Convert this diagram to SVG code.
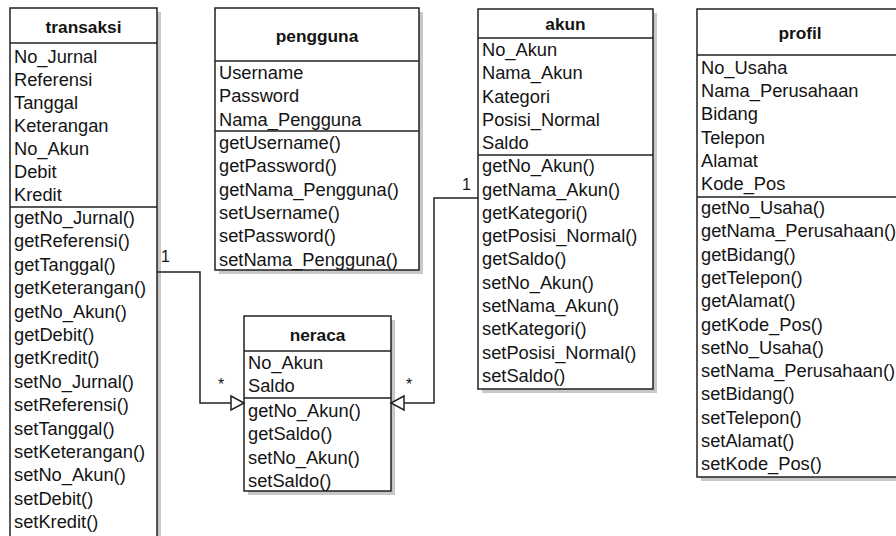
<svg xmlns="http://www.w3.org/2000/svg" width="896" height="536" viewBox="0 0 896 536">
<style>
.bg{fill:#ffffff}
.sh{fill:#c8c8c8}
.box{fill:#ffffff;stroke:#202020;stroke-width:1.5}
.ln{stroke:#202020;stroke-width:1.5}
.t{font-family:"Liberation Sans",Arial,sans-serif;font-size:18.3px;fill:#141414}
.h{font-family:"Liberation Sans",Arial,sans-serif;font-size:17.3px;font-weight:bold;fill:#141414;text-anchor:middle}
.lb{font-family:"Liberation Sans",Arial,sans-serif;font-size:16px;fill:#141414}
.c{fill:none;stroke:#202020;stroke-width:1.5}
.ar{fill:#ffffff;stroke:#202020;stroke-width:1.5}
</style>
<rect class="bg" x="0" y="0" width="896" height="536"/>

<g id="transaksi">
<rect class="sh" x="14" y="12" width="147" height="530"/>
<rect class="box" x="10" y="8" width="147" height="530"/>
<line class="ln" x1="10" y1="43" x2="157" y2="43"/>
<line class="ln" x1="10" y1="207" x2="157" y2="207"/>
<text class="h" x="83.5" y="33">transaksi</text>
<text class="t" x="14" y="63">No_Jurnal</text>
<text class="t" x="14" y="86">Referensi</text>
<text class="t" x="14" y="109">Tanggal</text>
<text class="t" x="14" y="132">Keterangan</text>
<text class="t" x="14" y="155">No_Akun</text>
<text class="t" x="14" y="178">Debit</text>
<text class="t" x="14" y="201">Kredit</text>
<text class="t" x="14" y="224">getNo_Jurnal()</text>
<text class="t" x="14" y="247.4">getReferensi()</text>
<text class="t" x="14" y="270.8">getTanggal()</text>
<text class="t" x="14" y="294.2">getKeterangan()</text>
<text class="t" x="14" y="317.6">getNo_Akun()</text>
<text class="t" x="14" y="341">getDebit()</text>
<text class="t" x="14" y="364.4">getKredit()</text>
<text class="t" x="14" y="387.8">setNo_Jurnal()</text>
<text class="t" x="14" y="411.2">setReferensi()</text>
<text class="t" x="14" y="434.6">setTanggal()</text>
<text class="t" x="14" y="458">setKeterangan()</text>
<text class="t" x="14" y="481.4">setNo_Akun()</text>
<text class="t" x="14" y="504.8">setDebit()</text>
<text class="t" x="14" y="528.2">setKredit()</text>
</g>

<g id="pengguna">
<rect class="sh" x="219" y="12" width="204" height="262"/>
<rect class="box" x="215" y="8" width="204" height="262"/>
<line class="ln" x1="215" y1="61" x2="419" y2="61"/>
<line class="ln" x1="215" y1="131" x2="419" y2="131"/>
<text class="h" x="317" y="42">pengguna</text>
<text class="t" x="219" y="79">Username</text>
<text class="t" x="219" y="102.3">Password</text>
<text class="t" x="219" y="125.6">Nama_Pengguna</text>
<text class="t" x="219" y="149">getUsername()</text>
<text class="t" x="219" y="172.3">getPassword()</text>
<text class="t" x="219" y="195.6">getNama_Pengguna()</text>
<text class="t" x="219" y="218.9">setUsername()</text>
<text class="t" x="219" y="242.2">setPassword()</text>
<text class="t" x="219" y="265.5">setNama_Pengguna()</text>
</g>

<g id="akun">
<rect class="sh" x="482" y="13" width="175" height="380"/>
<rect class="box" x="478" y="9" width="175" height="380"/>
<line class="ln" x1="478" y1="38" x2="653" y2="38"/>
<line class="ln" x1="478" y1="155" x2="653" y2="155"/>
<text class="h" x="565.5" y="30">akun</text>
<text class="t" x="482" y="56">No_Akun</text>
<text class="t" x="482" y="79.3">Nama_Akun</text>
<text class="t" x="482" y="102.6">Kategori</text>
<text class="t" x="482" y="125.9">Posisi_Normal</text>
<text class="t" x="482" y="149.2">Saldo</text>
<text class="t" x="482" y="172.2">getNo_Akun()</text>
<text class="t" x="482" y="195.5">getNama_Akun()</text>
<text class="t" x="482" y="218.8">getKategori()</text>
<text class="t" x="482" y="242.1">getPosisi_Normal()</text>
<text class="t" x="482" y="265.4">getSaldo()</text>
<text class="t" x="482" y="288.7">setNo_Akun()</text>
<text class="t" x="482" y="312">setNama_Akun()</text>
<text class="t" x="482" y="335.3">setKategori()</text>
<text class="t" x="482" y="358.6">setPosisi_Normal()</text>
<text class="t" x="482" y="381.9">setSaldo()</text>
</g>

<g id="profil">
<rect class="sh" x="701" y="13" width="206" height="468"/>
<rect class="box" x="697" y="9" width="206" height="468"/>
<line class="ln" x1="697" y1="55" x2="903" y2="55"/>
<line class="ln" x1="697" y1="197" x2="903" y2="197"/>
<text class="h" x="800" y="39">profil</text>
<text class="t" x="701" y="74">No_Usaha</text>
<text class="t" x="701" y="97.2">Nama_Perusahaan</text>
<text class="t" x="701" y="120.4">Bidang</text>
<text class="t" x="701" y="143.6">Telepon</text>
<text class="t" x="701" y="166.8">Alamat</text>
<text class="t" x="701" y="190">Kode_Pos</text>
<text class="t" x="701" y="214">getNo_Usaha()</text>
<text class="t" x="701" y="237.3">getNama_Perusahaan()</text>
<text class="t" x="701" y="260.6">getBidang()</text>
<text class="t" x="701" y="283.9">getTelepon()</text>
<text class="t" x="701" y="307.2">getAlamat()</text>
<text class="t" x="701" y="330.5">getKode_Pos()</text>
<text class="t" x="701" y="353.8">setNo_Usaha()</text>
<text class="t" x="701" y="377.1">setNama_Perusahaan()</text>
<text class="t" x="701" y="400.4">setBidang()</text>
<text class="t" x="701" y="423.7">setTelepon()</text>
<text class="t" x="701" y="447">setAlamat()</text>
<text class="t" x="701" y="470.3">setKode_Pos()</text>
</g>

<g id="neraca">
<rect class="sh" x="248" y="320" width="147" height="175"/>
<rect class="box" x="244" y="316" width="147" height="175"/>
<line class="ln" x1="244" y1="351" x2="391" y2="351"/>
<line class="ln" x1="244" y1="398" x2="391" y2="398"/>
<text class="h" x="317.5" y="341">neraca</text>
<text class="t" x="248" y="369">No_Akun</text>
<text class="t" x="248" y="392.3">Saldo</text>
<text class="t" x="248" y="417">getNo_Akun()</text>
<text class="t" x="248" y="440.3">getSaldo()</text>
<text class="t" x="248" y="463.6">setNo_Akun()</text>
<text class="t" x="248" y="486.9">setSaldo()</text>
</g>

<g id="connectors">
<polyline class="c" points="157,272 200,272 200,403 231,403"/>
<polygon class="ar" points="231,396 244,403 231,410"/>
<text class="lb" x="161" y="262">1</text>
<text class="lb" x="218" y="390">*</text>
<polyline class="c" points="478,198 434,198 434,403 404,403"/>
<polygon class="ar" points="404,396 391,403 404,410"/>
<text class="lb" x="462" y="190">1</text>
<text class="lb" x="406" y="390">*</text>
</g>
</svg>
